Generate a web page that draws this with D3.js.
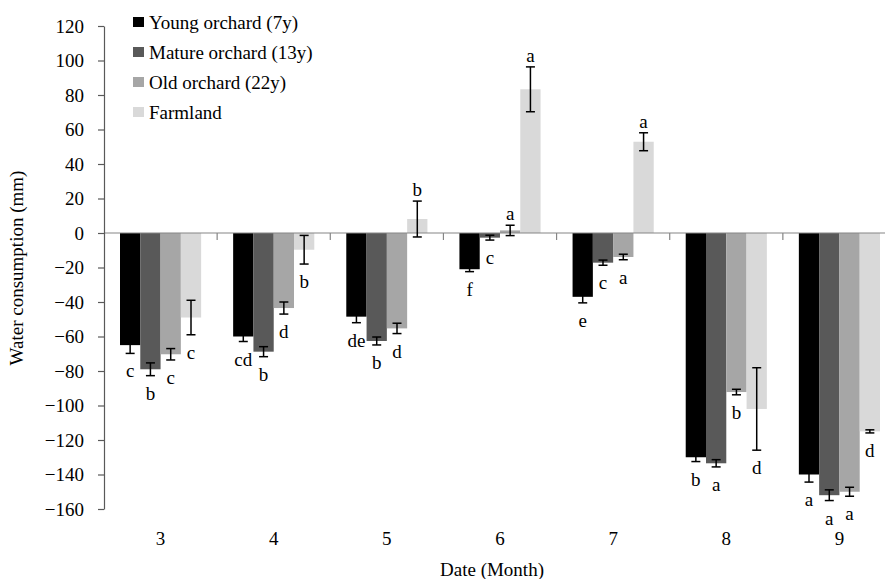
<!DOCTYPE html>
<html>
<head>
<meta charset="utf-8">
<script src="https://cdn.jsdelivr.net/npm/d3@7"></script>
<style>
    body { margin: 0; background: #fff; }
    svg text { font-family: "Liberation Serif", "Times New Roman", Times, "DejaVu Serif", serif; }
</style>
</head>
<body>
<svg class="chart" width="885" height="579"></svg>
<script>
// values
const months = ['3', '4', '5', '6', '7', '8', '9']
const seriesNames = ['Young orchard (7y)', 'Mature orchard (13y)', 'Old orchard (22y)', 'Farmland']

const young = [-65, -60, -48.5, -21, -37, -130, -140]
const youngErr = [4.8, 2.9, 3.5, 1.4, 3.5, 2.5, 4.4]
const youngLetters = ['c', 'cd', 'de', 'f', 'e', 'b', 'a']

const mature = [-79, -68.8, -62.6, -2.7, -17.2, -133.5, -152]
const matureErr = [3.7, 2.9, 2.3, 1.4, 1.5, 2.1, 3.1]
const matureLetters = ['b', 'b', 'b', 'c', 'c', 'a', 'a']

const old = [-70.3, -43.5, -55.3, 1.5, -13.9, -92.2, -150]
const oldErr = [3.3, 3.5, 3, 3, 1.6, 1.6, 2.6]
const oldLetters = ['c', 'd', 'd', 'a', 'a', 'b', 'a']

const farm = [-49, -9.7, 8.1, 83.3, 52.9, -102, -115]
const farmErr = [10, 8.3, 10.4, 13, 5.2, 23.9, 0.9]
const farmLetters = ['c', 'b', 'b', 'a', 'a', 'd', 'd']

const yTicks = [120, 100, 80, 60, 40, 20, 0, -20, -40, -60, -80, -100, -120, -140, -160]

const colors = ['#000000', '#595959', '#a6a6a6', '#d9d9d9']

const series = [
    { name: seriesNames[0], values: young, err: youngErr, letters: youngLetters },
    { name: seriesNames[1], values: mature, err: matureErr, letters: matureLetters },
    { name: seriesNames[2], values: old, err: oldErr, letters: oldLetters },
    { name: seriesNames[3], values: farm, err: farmErr, letters: farmLetters }
]

const points = []
series.forEach((s, si) => {
    months.forEach((m, mi) => {
        points.push({ month: m, si: si, value: s.values[mi], err: s.err[mi], letter: s.letters[mi] })
    })
})

const svg = d3.select('.chart')
const fontSize = 19
const serif = '"Liberation Serif", "Times New Roman", Times, "DejaVu Serif", serif'

const x = d3.scaleBand().domain(months).range([104, 896]).paddingInner(0).paddingOuter(0)
const x1 = d3.scaleBand().domain(d3.range(4)).range([16, x.bandwidth() - 16])
const y = d3.scaleLinear().domain([-160, 120]).range([509, 26])

// bars
svg.append('g')
    .selectAll('rect')
    .data(points)
    .enter()
    .append('rect')
    .attr('x', d => x(d.month) + x1(d.si))
    .attr('width', x1.bandwidth())
    .attr('y', d => y(Math.max(0, d.value)))
    .attr('height', d => Math.abs(y(d.value) - y(0)))
    .attr('fill', d => colors[d.si])

// x axis line with ticks between the months
const xAxis = svg.append('g')
xAxis.append('line')
    .attr('x1', x.range()[0]).attr('x2', x.range()[1])
    .attr('y1', y(0)).attr('y2', y(0))
    .attr('stroke', '#868686').attr('stroke-width', 1.2)
xAxis.selectAll('.xtick')
    .data(months.slice(1))
    .enter()
    .append('line')
    .attr('x1', d => x(d)).attr('x2', d => x(d))
    .attr('y1', y(0)).attr('y2', y(0) + 7)
    .attr('stroke', '#868686').attr('stroke-width', 1.2)

// month labels
svg.append('g')
    .selectAll('text')
    .data(months)
    .enter()
    .append('text')
    .attr('x', d => x(d) + x.bandwidth() / 2)
    .attr('y', 545)
    .attr('text-anchor', 'middle')
    .attr('font-family', serif)
    .attr('font-size', fontSize)
    .text(d => d)

// y axis
const yAxis = svg.append('g')
    .attr('transform', `translate(${x.range()[0]},0)`)
    .call(d3.axisLeft(y).tickValues(yTicks).tickSize(6).tickPadding(14).tickSizeOuter(0))
yAxis.attr('font-family', serif)
yAxis.select('.domain').attr('stroke', '#595959').attr('stroke-width', 1.2)
yAxis.selectAll('.tick line').attr('stroke', '#595959').attr('stroke-width', 1.2)
yAxis.selectAll('.tick text')
    .attr('font-size', fontSize)
    .attr('font-family', serif)
    .attr('fill', '#000')

// error bars
const cap = 4.5
const errG = svg.append('g')
    .selectAll('g')
    .data(points)
    .enter()
    .append('g')
    .attr('stroke', '#000')
    .attr('stroke-width', 1.5)

const cx = d => x(d.month) + x1(d.si) + x1.bandwidth() / 2

errG.append('line')
    .attr('x1', cx).attr('x2', cx)
    .attr('y1', d => y(d.value + d.err)).attr('y2', d => y(d.value - d.err))
errG.append('line')
    .attr('x1', d => cx(d) - cap).attr('x2', d => cx(d) + cap)
    .attr('y1', d => y(d.value + d.err)).attr('y2', d => y(d.value + d.err))
errG.append('line')
    .attr('x1', d => cx(d) - cap).attr('x2', d => cx(d) + cap)
    .attr('y1', d => y(d.value - d.err)).attr('y2', d => y(d.value - d.err))

// significance letters
svg.append('g')
    .selectAll('text')
    .data(points)
    .enter()
    .append('text')
    .attr('x', cx)
    .attr('y', d => d.value >= 0 ? y(d.value + d.err) - 5 : y(d.value - d.err) + 24)
    .attr('text-anchor', 'middle')
    .attr('font-family', serif)
    .attr('font-size', fontSize)
    .text(d => d.letter)

// legend
const legend = svg.append('g')
    .selectAll('g')
    .data(series)
    .enter()
    .append('g')
    .attr('transform', (d, i) => `translate(133,${22 + i * 30})`)
legend.append('rect')
    .attr('x', 0).attr('y', -5)
    .attr('width', 11).attr('height', 10)
    .attr('fill', (d, i) => colors[i])
legend.append('text')
    .attr('x', 16).attr('y', 6.5)
    .attr('font-family', serif)
    .attr('font-size', fontSize)
    .text(d => d.name)

// axis titles
svg.append('text')
    .attr('transform', 'translate(23,268) rotate(-90)')
    .attr('text-anchor', 'middle')
    .attr('font-family', serif)
    .attr('font-size', fontSize)
    .text('Water consumption (mm)')

svg.append('text')
    .attr('x', 492)
    .attr('y', 576)
    .attr('text-anchor', 'middle')
    .attr('font-family', serif)
    .attr('font-size', fontSize)
    .text('Date (Month)')
</script>
</body>
</html>
